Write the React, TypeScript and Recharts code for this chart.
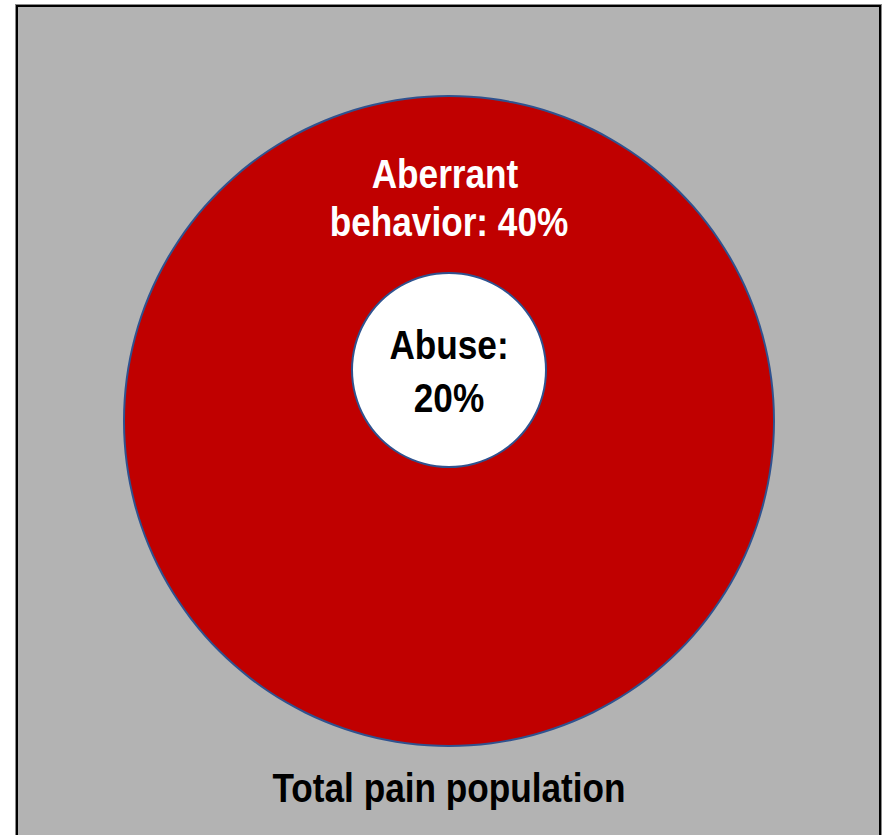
import { PieChart, Pie, Cell } from "recharts";

const groups = ["Total pain population", "Aberrant behavior", "Abuse"];
const shares = [100, 40, 20];

const W = 886;
const H = 835;
const FONT = "'Liberation Sans Narrow', 'Arial Narrow', 'Liberation Sans', Arial, sans-serif";
const RED = "#c00000";
const EDGE = "#2f528f";

const aberrant = [{ name: groups[1], value: shares[1] }];
const abuse = [{ name: groups[2], value: shares[2] }];

// narrow-looking text: no condensed face is installed, so squeeze horizontally
function Narrow({ x, y, fill, children }: { x: number; y: number; fill: string; children: any }) {
  return (
    <text
      transform={`translate(${x},${y}) scale(0.88,1)`}
      textAnchor="middle"
      fill={fill}
      fontFamily={FONT}
      fontWeight="bold"
      fontSize={40}
    >
      {children}
    </text>
  );
}

export default function App() {
  return (
    <div style={{ position: "absolute", left: 0, top: 0, width: W, height: H, overflow: "hidden", background: "#fff" }}>
      <div
        style={{
          position: "absolute",
          left: 16,
          top: 5,
          width: 861,
          height: 900,
          background: "#b3b3b3",
          border: "2px solid #000",
          outline: "1px solid #8a8a8a",
        }}
      />
      <div style={{ position: "absolute", left: 0, top: 0 }}>
        <PieChart width={W} height={H} margin={{ top: 0, right: 0, bottom: 0, left: 0 }}>
          {/* outer circle: aberrant behavior */}
          <Pie
            data={aberrant}
            dataKey="value"
            cx={449}
            cy={421}
            innerRadius={0}
            outerRadius={325}
            startAngle={90}
            endAngle={-270}
            stroke="none"
            isAnimationActive={false}
          >
            <Cell fill={RED} />
          </Pie>
          <Pie
            data={aberrant}
            dataKey="value"
            cx={449}
            cy={421}
            innerRadius={324}
            outerRadius={326}
            startAngle={90}
            endAngle={-270}
            stroke="none"
            isAnimationActive={false}
          >
            <Cell fill={EDGE} />
          </Pie>
          {/* inner circle: abuse */}
          <Pie
            data={abuse}
            dataKey="value"
            cx={449}
            cy={370}
            innerRadius={0}
            outerRadius={97}
            startAngle={90}
            endAngle={-270}
            stroke="none"
            isAnimationActive={false}
          >
            <Cell fill="#ffffff" />
          </Pie>
          <Pie
            data={abuse}
            dataKey="value"
            cx={449}
            cy={370}
            innerRadius={96}
            outerRadius={98}
            startAngle={90}
            endAngle={-270}
            stroke="none"
            isAnimationActive={false}
          >
            <Cell fill={EDGE} />
          </Pie>
        </PieChart>
      </div>
      <svg width={W} height={H} style={{ position: "absolute", left: 0, top: 0, pointerEvents: "none" }}>
        <Narrow x={445} y={188} fill="#fff">Aberrant</Narrow>
        <Narrow x={449} y={236} fill="#fff">{`behavior: ${shares[1]}%`}</Narrow>
        <Narrow x={449} y={359} fill="#000">{`${groups[2]}:`}</Narrow>
        <Narrow x={449} y={412} fill="#000">{`${shares[2]}%`}</Narrow>
        <Narrow x={449} y={802} fill="#000">{groups[0]}</Narrow>
      </svg>
    </div>
  );
}
